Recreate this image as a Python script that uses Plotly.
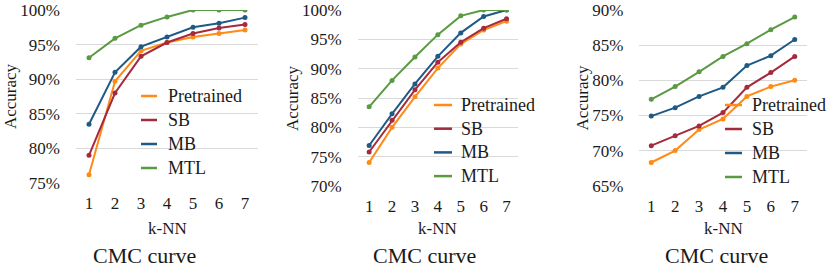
import plotly.graph_objects as go

k_values = ["1", "2", "3", "4", "5", "6", "7"]
series_names = ["Pretrained", "SB", "MB", "MTL"]
colors = ["#FF8A14", "#A42B3E", "#1F5A85", "#5A9A42"]

# Panel 1
p1_pretrained = [76.2, 89.7, 94.1, 95.3, 96.1, 96.6, 97.1]
p1_sb = [79.0, 88.0, 93.3, 95.3, 96.6, 97.4, 97.9]
p1_mb = [83.5, 91.0, 94.7, 96.1, 97.5, 98.1, 98.9]
p1_mtl = [93.1, 95.9, 97.8, 99.0, 100.0, 100.0, 100.0]

# Panel 2
p2_pretrained = [74.0, 80.0, 85.2, 90.1, 94.2, 96.6, 98.1]
p2_sb = [75.8, 81.2, 86.4, 91.1, 94.5, 96.9, 98.5]
p2_mb = [76.9, 82.3, 87.4, 92.1, 96.1, 98.9, 100.0]
p2_mtl = [83.5, 88.0, 92.0, 95.8, 99.0, 100.0, 100.0]

# Panel 3
p3_pretrained = [68.3, 70.0, 73.0, 74.5, 77.7, 79.1, 80.0]
p3_sb = [70.7, 72.1, 73.5, 75.4, 79.0, 81.1, 83.4]
p3_mb = [74.9, 76.1, 77.7, 79.0, 82.1, 83.5, 85.8]
p3_mtl = [77.3, 79.1, 81.2, 83.4, 85.2, 87.2, 89.0]

y_ranges = [[75, 100], [70, 100], [65, 90]]
panels = [
    [p1_pretrained, p1_sb, p1_mb, p1_mtl],
    [p2_pretrained, p2_sb, p2_mb, p2_mtl],
    [p3_pretrained, p3_sb, p3_mb, p3_mtl],
]

W, H = 830, 269
FONT = "Liberation Serif, Times New Roman, DejaVu Serif, serif"
TXT = "#1a1a1a"

# plot areas in pixels (left, right, top, bottom)
areas = [(76, 258, 10, 183), (357.7, 518, 10, 186), (639.3, 806.7, 10, 185.7)]
# legend: line x0, x1, text x, first row y, row step
legend_geo = [(141, 157, 166, 96, 24), (434, 452, 459, 105, 23.7), (725, 742, 750, 105, 24)]
ylabel_pos = [(10, 96), (292, 98), (581.5, 98)]
title_pos = [(144, 255), (424, 255), (716, 255)]

fig = go.Figure()
annotations, shapes = [], []

for i, data in enumerate(panels):
    sfx = "" if i == 0 else str(i + 1)
    xa, ya = "x" + sfx, "y" + sfx
    for name, vals, col in zip(series_names, data, colors):
        fig.add_trace(go.Scatter(
            x=k_values, y=vals, mode="lines+markers", name=name,
            line=dict(color=col, width=2), marker=dict(color=col, size=5),
            xaxis=xa, yaxis=ya, showlegend=False))
    l, r, t, b = areas[i]
    fig.layout["xaxis" + sfx] = dict(
        domain=[l / W, r / W], anchor=ya, type="category",
        range=[-0.5, 6.5], showgrid=False, showline=False, zeroline=False,
        ticks="", ticklabelstandoff=8, tickfont=dict(size=17, family=FONT, color=TXT))
    fig.layout["yaxis" + sfx] = dict(
        domain=[1 - b / H, 1 - t / H], anchor=xa, range=y_ranges[i],
        dtick=5, ticksuffix="%", showgrid=True, gridcolor="#d9d9d9", gridwidth=1,
        showline=False, zeroline=False, ticks="", ticklabelstandoff=15,
        tickfont=dict(size=17, family=FONT, color=TXT))
    x0, x1, tx, y0, step = legend_geo[i]
    for j, (name, col) in enumerate(zip(series_names, colors)):
        yy = y0 + j * step
        shapes.append(dict(type="line", xref="paper", yref="paper",
                           x0=x0 / W, x1=x1 / W, y0=1 - yy / H, y1=1 - yy / H,
                           line=dict(color=col, width=2.5)))
        annotations.append(dict(x=tx / W, y=1 - yy / H, xref="paper", yref="paper",
                                text=name, showarrow=False, xanchor="left", yanchor="middle",
                                font=dict(size=18, family=FONT, color=TXT)))
    annotations.append(dict(
        x=(l + r) / 2 / W, y=1 - 228 / H, xref="paper", yref="paper",
        text="k-NN", showarrow=False, font=dict(size=17, family=FONT, color=TXT),
        xanchor="center", yanchor="middle"))
    annotations.append(dict(
        x=title_pos[i][0] / W, y=1 - title_pos[i][1] / H, xref="paper", yref="paper",
        text="CMC curve", showarrow=False, font=dict(size=22, family=FONT, color=TXT),
        xanchor="center", yanchor="middle"))
    annotations.append(dict(
        x=ylabel_pos[i][0] / W, y=1 - ylabel_pos[i][1] / H, xref="paper", yref="paper",
        text="Accuracy", showarrow=False, textangle=-90,
        font=dict(size=17, family=FONT, color=TXT),
        xanchor="center", yanchor="middle"))

fig.update_layout(
    width=W, height=H,
    margin=dict(l=0, r=0, t=0, b=0, autoexpand=False),
    paper_bgcolor="white", plot_bgcolor="white",
    font=dict(family=FONT, size=17, color=TXT),
    annotations=annotations, shapes=shapes, showlegend=False,
)
fig.write_html("out.html", config={"displayModeBar": False},
               post_script="document.body.style.margin='0';")
